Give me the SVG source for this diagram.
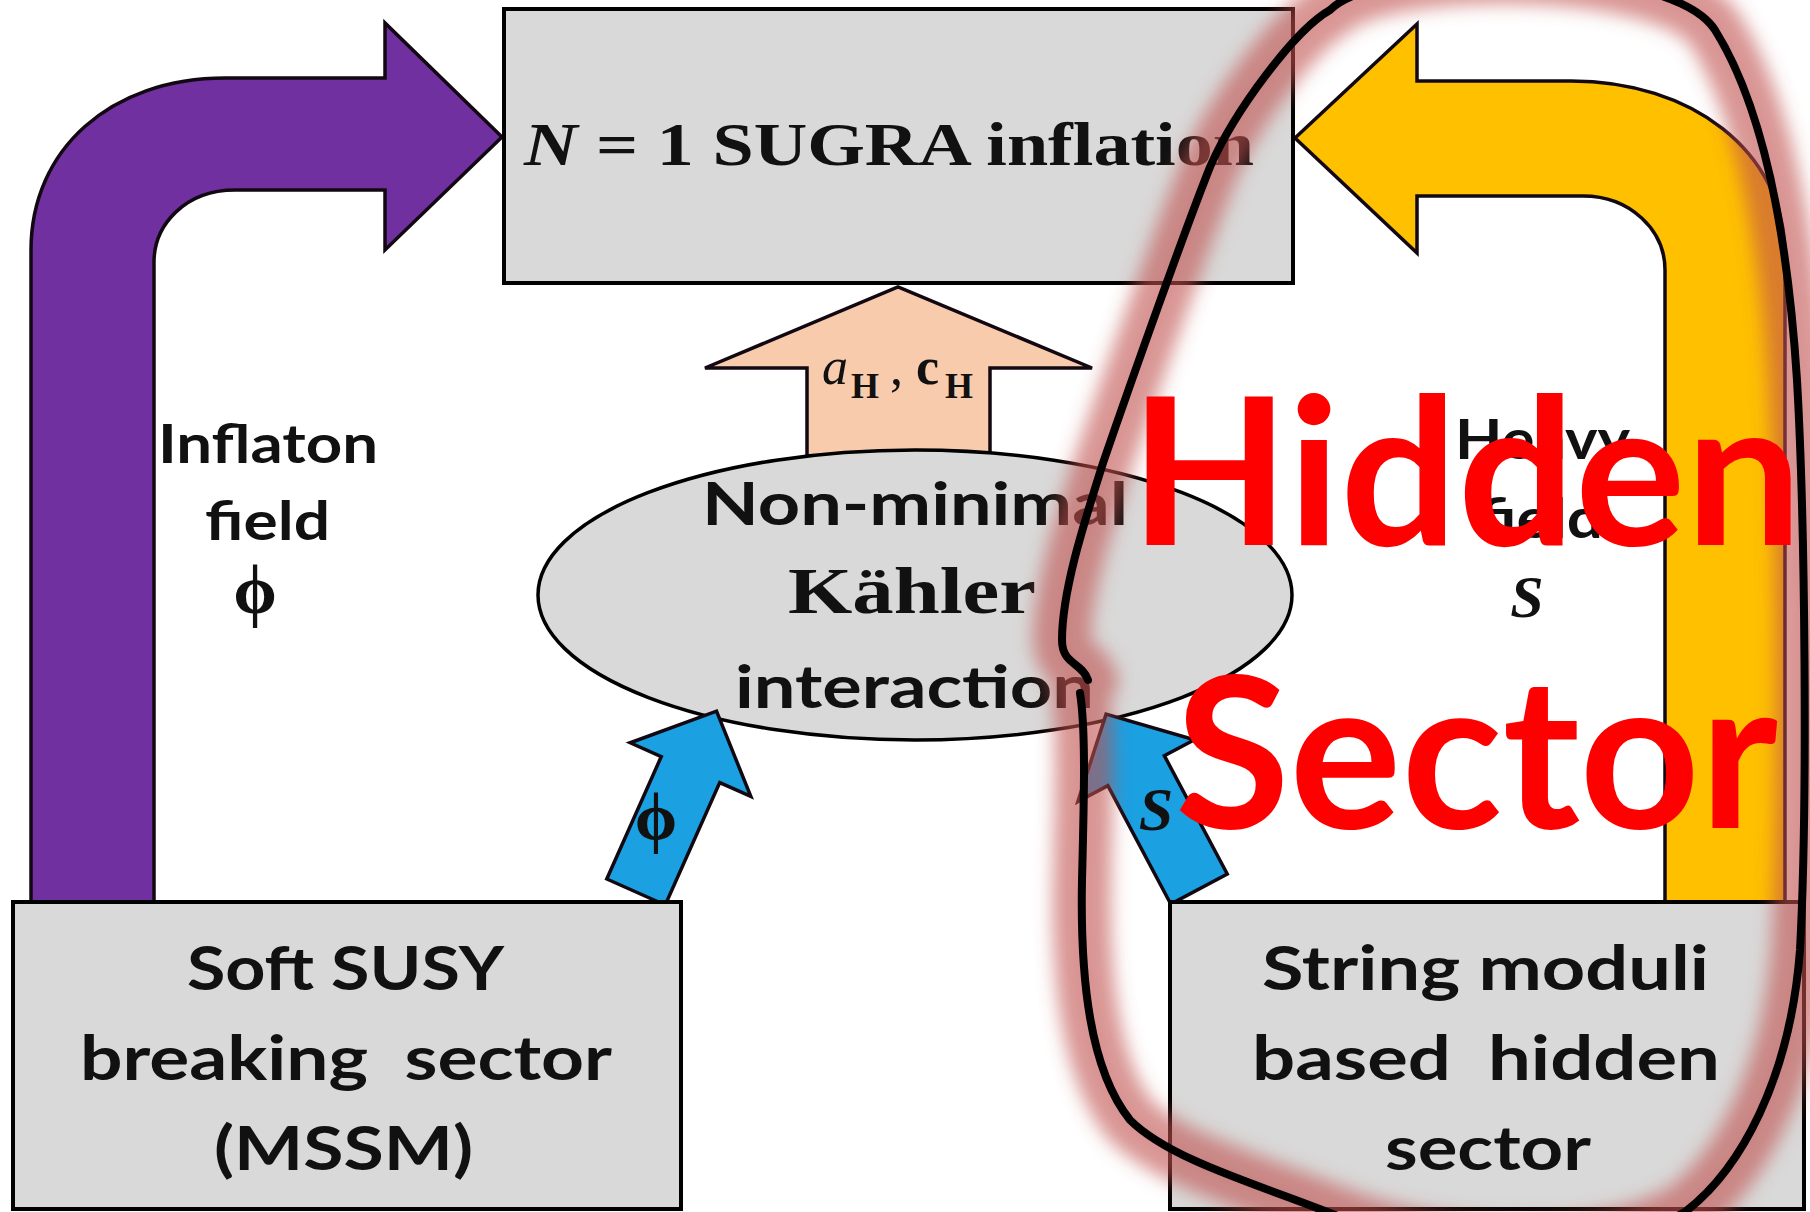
<svg xmlns="http://www.w3.org/2000/svg" width="1810" height="1212" viewBox="0 0 1810 1212">
<defs>
<style>
.box{fill:#D9D9D9;stroke:#000;stroke-width:4}
.ell{fill:#D9D9D9;stroke:#000;stroke-width:3.5}
.arrow{stroke:#120812;stroke-width:3.5;stroke-linejoin:miter}
.sans{font-family:Lato,"Liberation Sans",sans-serif;font-weight:bold;fill:#111}
.serif{font-family:"Liberation Serif","Times New Roman",serif;fill:#111}
.red{font-family:Lato,"Liberation Sans",sans-serif;font-weight:bold;fill:#FF0000}
</style>
<filter id="blur" x="-20%" y="-20%" width="140%" height="140%"><feGaussianBlur stdDeviation="9"/></filter>
<polygon id="blueArrow" points="-32,0 -32,-134 -66,-134 0,-198 66,-134 32,-134 32,0"/>
</defs>
<rect width="1810" height="1212" fill="#fff"/>

<g id="connectors">
<path id="purple-arrow" class="arrow" fill="#7030A0" d="M31,905 L31,250 C31,150 110,78 225,78 L385,78 L385,23 L502,137 L385,250 L385,190 L235,190 C185,190 154,225 154,262 L154,905 Z"/>
<path id="yellow-arrow" class="arrow" fill="#FFC000" d="M1785,905 L1785,255 C1785,150 1690,81 1571,81 L1417,81 L1417,24 L1295,138 L1417,253 L1417,196 L1583,196 C1630,196 1665,230 1665,270 L1665,905 Z"/>
<path id="peach-arrow" class="arrow" fill="#F8CBAD" d="M807,460 L807,368 L705,368 L898,287 L1092,368 L990,368 L990,460 Z"/>
</g>

<g id="node-top">
<rect class="box" x="504" y="9" width="789" height="274"/>
<text class="serif" x="524" y="165" font-size="61" font-weight="bold" textLength="730" lengthAdjust="spacingAndGlyphs"><tspan font-style="italic">N</tspan> = 1 SUGRA inflation</text>
</g>

<g id="label-aH-cH" class="serif">
<text font-size="52"><tspan x="822" y="384" font-style="italic">a</tspan><tspan x="851" y="398" font-size="36" font-weight="bold">H</tspan><tspan x="890" y="384">,</tspan><tspan x="916" y="384" font-weight="bold">c</tspan><tspan x="945" y="398" font-size="36" font-weight="bold">H</tspan></text>
</g>

<g id="node-kahler">
<ellipse class="ell" cx="915" cy="595" rx="377" ry="145"/>
<text class="sans" x="702" y="525" font-size="60" textLength="426" lengthAdjust="spacingAndGlyphs">Non-minimal</text>
<text class="serif" x="788" y="613" font-size="65" font-weight="bold" textLength="248" lengthAdjust="spacingAndGlyphs">Kähler</text>
<text class="sans" x="735" y="708" font-size="60" textLength="359" lengthAdjust="spacingAndGlyphs">interaction</text>
</g>

<g id="connectors-blue">
<use href="#blueArrow" class="arrow" fill="#1BA0E2" transform="translate(636,892) rotate(24)"/>
<use href="#blueArrow" class="arrow" fill="#1BA0E2" transform="translate(1199,889) rotate(-28)"/>
<text class="serif" x="656" y="840" font-size="68" font-weight="bold" text-anchor="middle">ϕ</text>
<text class="serif" x="1156" y="830" font-size="62" font-weight="bold" font-style="italic" text-anchor="middle">S</text>
</g>

<g id="label-inflaton">
<text class="sans" x="158" y="463" font-size="54" textLength="220" lengthAdjust="spacingAndGlyphs">Inflaton</text>
<text class="sans" x="205" y="540" font-size="54" textLength="125" lengthAdjust="spacingAndGlyphs">field</text>
<text class="serif" x="255" y="613" font-size="70" font-weight="bold" text-anchor="middle">ϕ</text>
</g>

<g id="label-heavy">
<text class="sans" x="1455" y="459" font-size="56" textLength="175" lengthAdjust="spacingAndGlyphs">Heavy</text>
<text class="sans" x="1478" y="538" font-size="56" textLength="125" lengthAdjust="spacingAndGlyphs">field</text>
<text class="serif" x="1527" y="617" font-size="60" font-weight="bold" font-style="italic" text-anchor="middle">S</text>
</g>

<g id="node-soft-susy">
<rect class="box" x="13" y="902" width="668" height="307"/>
<text class="sans" x="187" y="990" font-size="62" textLength="317" lengthAdjust="spacingAndGlyphs">Soft SUSY</text>
<text class="sans" x="80" y="1080" font-size="62" textLength="532" lengthAdjust="spacingAndGlyphs" xml:space="preserve">breaking  sector</text>
<text class="sans" x="214" y="1170" font-size="62" textLength="259" lengthAdjust="spacingAndGlyphs">(MSSM)</text>
</g>

<g id="node-string-moduli">
<rect class="box" x="1170" y="902" width="634" height="307"/>
<text class="sans" x="1262" y="990" font-size="62" textLength="447" lengthAdjust="spacingAndGlyphs">String moduli</text>
<text class="sans" x="1252" y="1080" font-size="62" textLength="468" lengthAdjust="spacingAndGlyphs" xml:space="preserve">based  hidden</text>
<text class="sans" x="1385" y="1170" font-size="62" textLength="206" lengthAdjust="spacingAndGlyphs">sector</text>
</g>

<g id="hidden-sector-loop">
<path d="M1080,693 C1086,730 1084,800 1082,880 C1080,980 1090,1070 1130,1120 C1170,1160 1260,1185 1335,1215 C1450,1260 1600,1260 1685,1212 C1740,1170 1790,1080 1800,950 C1808,800 1805,520 1797,380 C1788,240 1765,110 1715,30 C1670,-40 1380,-40 1330,10 C1295,30 1235,110 1210,167 C1185,230 1135,370 1103,463 C1085,520 1062,590 1062,640 C1062,665 1082,662 1088,680 Z" fill="none" stroke="#C0504D" stroke-width="58" stroke-opacity="0.6" filter="url(#blur)"/>
<path d="M1080,693 C1086,730 1084,800 1082,880 C1080,980 1090,1070 1130,1120 C1170,1160 1260,1185 1335,1215 C1450,1260 1600,1260 1685,1212 C1740,1170 1790,1080 1800,950 C1808,800 1805,520 1797,380 C1788,240 1765,110 1715,30 C1670,-40 1380,-40 1330,10 C1295,30 1235,110 1210,167 C1185,230 1135,370 1103,463 C1085,520 1062,590 1062,640 C1062,665 1082,662 1088,680" fill="none" stroke="#000" stroke-width="8" stroke-linecap="round"/>
<text class="red" x="1130" y="545" font-size="206" textLength="672" lengthAdjust="spacingAndGlyphs">Hidden</text>
<text class="red" x="1175" y="828" font-size="210" textLength="603" lengthAdjust="spacingAndGlyphs">Sector</text>
</g>
</svg>
